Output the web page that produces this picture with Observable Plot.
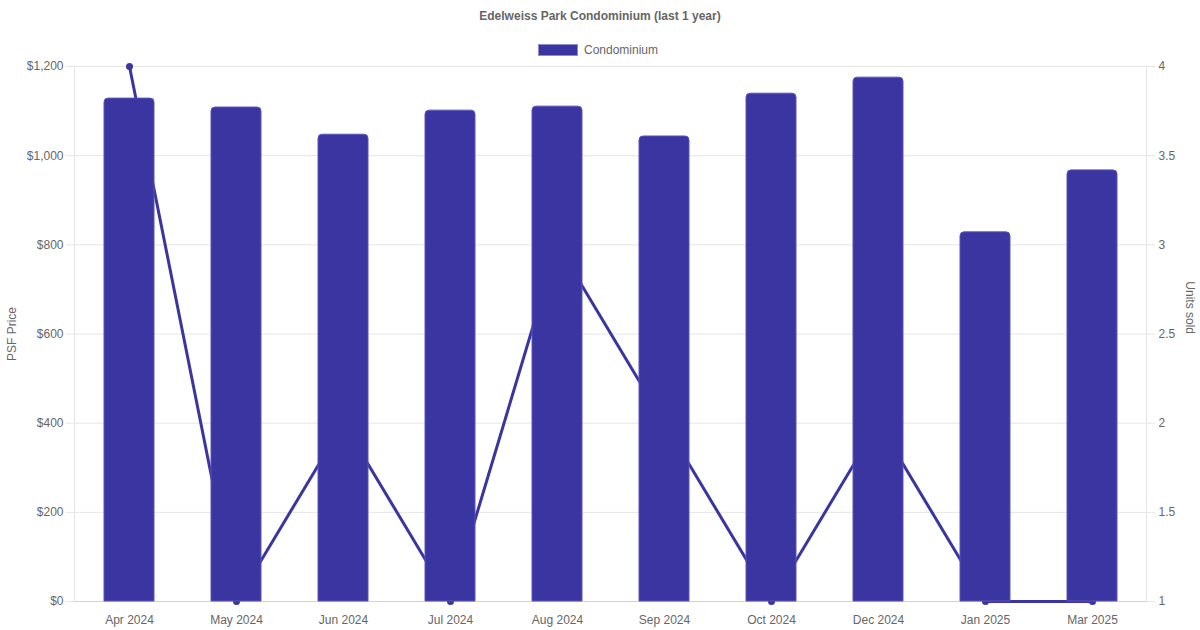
<!DOCTYPE html>
<html><head><meta charset="utf-8">
<script src="https://cdn.jsdelivr.net/npm/d3@7"></script>
<script src="https://cdn.jsdelivr.net/npm/@observablehq/plot@0.6"></script>
<style>
body{margin:0;background:#fff;font-family:"Liberation Sans",Arial,sans-serif;}
#wrap{width:1200px;height:630px;position:relative;overflow:hidden;}
#title{position:absolute;top:9px;left:0;width:1200px;text-align:center;font-size:12px;line-height:14px;font-weight:bold;color:#666;}
#legend{position:absolute;top:43px;left:538px;height:14px;display:flex;align-items:center;font-size:12px;color:#666;}
#legend .sw{width:38px;height:10px;background:#3a35a0;border:1px solid #8f8bd0;margin-right:6px;}
#chart{position:absolute;top:56px;left:0;}
</style></head>
<body><div id="wrap">
<div id="title">Edelweiss Park Condominium (last 1 year)</div>
<div id="legend"><span class="sw"></span><span>Condominium</span></div>
<div id="chart"></div>
</div>
<script>
const months = ["Apr 2024","May 2024","Jun 2024","Jul 2024","Aug 2024","Sep 2024","Oct 2024","Dec 2024","Jan 2025","Mar 2025"];
const psfPrice = [1128, 1108, 1047, 1101, 1110, 1043, 1139, 1175, 828, 967];
const unitsSold = [4, 1, 2, 1, 3, 2, 1, 2, 1, 1];
const leftTicks = [0, 200, 400, 600, 800, 1000, 1200];
const rightTickLabels = ["1", "1.5", "2", "2.5", "3", "3.5", "4"];

const color = "#3a35a0";
const data = months.map((m, i) => ({month: m, psf: psfPrice[i], units: unitsSold[i], uy: (unitsSold[i] - 1) * 400}));

const chart = Plot.plot({
  width: 1200,
  height: 574,
  marginTop: 10,
  marginBottom: 29,
  marginLeft: 74,
  marginRight: 54,
  style: {fontFamily: '"Liberation Sans", Arial, sans-serif', fontSize: "12px", background: "#fff"},
  x: {domain: months, paddingInner: 0.534, paddingOuter: 0.267, align: 0.5, label: null},
  y: {domain: [0, 1200], label: null},
  marks: [
    Plot.gridY(leftTicks, {stroke: "#e5e5e5", strokeOpacity: 1}),
    Plot.frame({stroke: "#e5e5e5"}),
    Plot.ruleY([0], {stroke: "#d0d0d0"}),
    Plot.axisY(leftTicks, {anchor: "left", tickSize: 8, tickPadding: 3, stroke: "#e5e5e5", color: "#666",
      tickFormat: d => "$" + d3.format(",")(d), label: "PSF Price", labelAnchor: "center", labelArrow: "none", labelOffset: 67}),
    Plot.axisY(leftTicks, {anchor: "right", tickSize: 8, tickPadding: 4, stroke: "#e5e5e5", color: "#666",
      tickFormat: (d, i) => rightTickLabels[i], label: null}),
    Plot.text(["Units sold"], {frameAnchor: "right", dx: 43, rotate: 90, fill: "#666", fontSize: 12}),
    Plot.axisX({tickSize: 0, tickPadding: 14, color: "#666", label: null}),
    Plot.line(data, {x: "month", y: "uy", stroke: color, strokeWidth: 3}),
    Plot.dot(data, {x: "month", y: "uy", fill: color, r: 3.5}),
    Plot.barY(data, {x: "month", y: "psf", fill: color, stroke: "#5a56b8", strokeWidth: 1, ry1: 4, rx1y1: 4, rx2y1: 4})
  ]
});
document.getElementById("chart").appendChild(chart);
</script>
</body></html>
